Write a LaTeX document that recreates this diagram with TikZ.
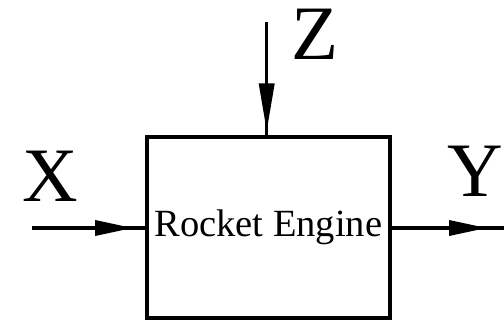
\documentclass[tikz,border=0pt]{standalone}
\usepackage{fontspec}
\setmainfont{Liberation Serif}
\usepackage{tikz}
\usetikzlibrary{positioning,arrows.meta,decorations.markings}

\begin{document}
\begin{tikzpicture}[x=1pt, y=-1pt,
                   block/.style={draw, line width=4pt, minimum width=242.5pt,
                                 minimum height=180pt, inner sep=0pt,
                                 font=\fontsize{38.5}{40}\selectfont},
                   sig/.style={inner sep=0pt, font=\fontsize{77}{80}\selectfont},
                   flow/.style={line width=3.5pt, postaction={decorate},
                                decoration={markings, mark=at position #1 with
                                  {\arrow{Triangle[length=38pt, width=15pt]}}}},
                   feed/.style={line width=3.5pt, postaction={decorate},
                                decoration={markings, mark=at position #1 with
                                  {\arrow{Triangle[length=48pt, width=15pt]}}}}]
    \useasboundingbox (0,0) rectangle (504,329);
    \node[block] (eng) at (268.25,227.5) {Rocket Engine};
    \coordinate (xin)  at (32,228);
    \coordinate (yout) at (506,228);
    \coordinate (zin)  at (266.7,22);
    \node[sig] (xlab) at (50,176.5) {X};
    \node[sig] (ylab) at (475,171)  {Y};
    \node[sig] (zlab) at (315,34)   {Z};
    \draw[flow=-12pt] (xin) -- (eng.west |- xin);
    \draw[flow=-19pt] (eng.east |- yout) -- (yout);
    \draw[feed=-4pt]  (zin) -- (zin |- eng.north);
\end{tikzpicture}
\end{document}
